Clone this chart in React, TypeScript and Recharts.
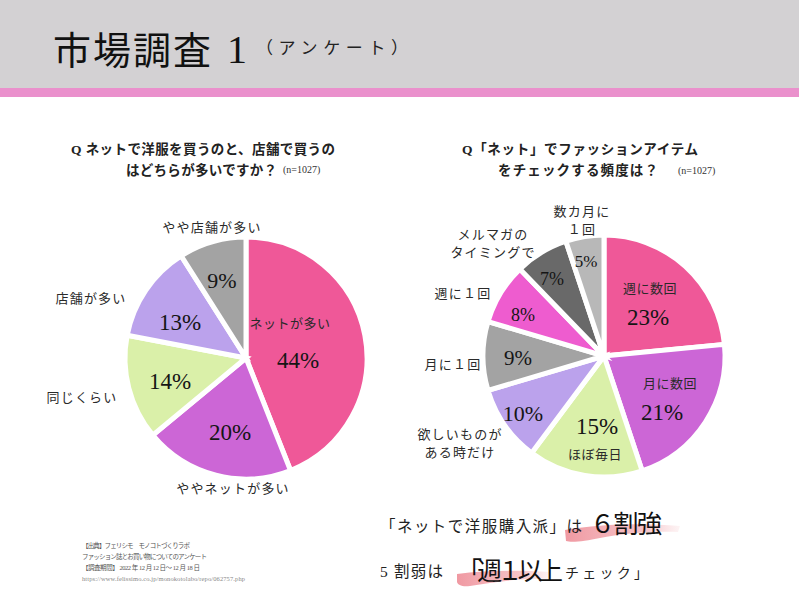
import React from 'react';
import { PieChart, Pie, Cell } from 'recharts';

// ---- data ----
const leftNames = ['ネットが多い', 'ややネットが多い', '同じくらい', '店舗が多い', 'やや店舗が多い'];
const leftValues = [44, 20, 14, 13, 9];
const rightNames = ['週に数回', '月に数回', 'ほぼ毎日', '欲しいものが\nある時だけ', '月に１回', '週に１回', 'メルマガの\nタイミングで', '数カ月に\n１回'];
const rightValues = [23, 21, 15, 10, 9, 8, 7, 5];

// ---- styles / layout ----
const leftColors = ['#EF5898', '#CC66D6', '#DAF0A9', '#BBA2EC', '#A3A3A3'];
const rightColors = ['#EF5898', '#CC66D6', '#DAF0A9', '#BBA2EC', '#A3A3A3', '#EE5CCF', '#696969', '#B8B8B8'];

type Pos = { name: [number, number]; pct: [number, number]; size: number; inside?: boolean };
const leftPos: Pos[] = [
  { name: [44, -36], pct: [52, 2], size: 23, inside: true },
  { name: [-13, 129], pct: [-16, 74], size: 23 },
  { name: [-164, 38], pct: [-76, 23], size: 23 },
  { name: [-155, -61], pct: [-66, -36], size: 23 },
  { name: [-34, -132], pct: [-24, -78], size: 22 },
];
const rightPos: Pos[] = [
  { name: [46, -69], pct: [44, -39], size: 23, inside: true },
  { name: [66, 26], pct: [58, 56], size: 23, inside: true },
  { name: [-9, 97], pct: [-7, 70], size: 23, inside: true },
  { name: [-144, 86], pct: [-81, 57], size: 22 },
  { name: [-151, 7], pct: [-86, 2], size: 21 },
  { name: [-141, -64], pct: [-81, -41], size: 18 },
  { name: [-111, -114], pct: [-52, -77], size: 18 },
  { name: [-22, -137], pct: [-18, -95], size: 17 },
];

const SERIF = "'Liberation Serif', 'Noto Sans CJK JP', serif";
const JP = "'Noto Sans CJK JP', sans-serif";
const NOMARGIN = { top: 0, right: 0, bottom: 0, left: 0 };

const toData = (names: string[], values: number[]) => names.map((n, i) => ({ name: n, value: values[i] }));
const leftData = toData(leftNames, leftValues);
const rightData = toData(rightNames, rightValues);

const makeLabel = (pos: Pos[]) => (props: any) => {
  const { cx, cy, outerRadius, index, value, name } = props;
  const p = pos[index];
  const k = outerRadius / 121;
  const lines = String(name).split('\n');
  const nx = cx + p.name[0] * k;
  const ny = cy + p.name[1] * k;
  const lh = 18;
  return (
    <g>
      <text x={cx + p.pct[0] * k} y={cy + p.pct[1] * k} textAnchor="middle" dominantBaseline="central"
        fontFamily={SERIF} fontSize={p.size} fill="#151515">{`${value}%`}</text>
      {lines.map((l, i) => (
        <text key={i} x={nx} y={ny + (i - (lines.length - 1) / 2) * lh} textAnchor="middle" dominantBaseline="central"
          fontFamily={JP} fontSize={13} fill="#2a2a2a" style={{ letterSpacing: p.inside ? 0.5 : 1.2 }}>{l}</text>
      ))}
    </g>
  );
};

export default function App() {
  return (
    <div style={{ position: 'absolute', left: 0, top: 0, width: 799, height: 601, overflow: 'hidden', background: '#fff' }}>
      <div style={{ position: 'absolute', left: 0, top: 0, width: 799, height: 88, background: '#D3D1D3' }} />
      <div style={{ position: 'absolute', left: 0, top: 88, width: 799, height: 9, background: '#EA90CC' }} />

      <div style={{ position: 'absolute', left: 0, top: 180 }}>
        <PieChart width={400} height={340} margin={NOMARGIN}>
          <Pie data={leftData} dataKey="value" nameKey="name" cx={246} cy={178} outerRadius={121}
            startAngle={90} endAngle={-270} stroke="#fff" strokeWidth={5} isAnimationActive={false}
            label={makeLabel(leftPos)} labelLine={false}>
            {leftData.map((_, i) => <Cell key={i} fill={leftColors[i]} />)}
          </Pie>
        </PieChart>
      </div>
      <div style={{ position: 'absolute', left: 400, top: 180 }}>
        <PieChart width={399} height={340} margin={NOMARGIN}>
          <Pie data={rightData} dataKey="value" nameKey="name" cx={204} cy={176} outerRadius={121}
            startAngle={90} endAngle={-270} stroke="#fff" strokeWidth={5} isAnimationActive={false}
            label={makeLabel(rightPos)} labelLine={false}>
            {rightData.map((_, i) => <Cell key={i} fill={rightColors[i]} />)}
          </Pie>
        </PieChart>
      </div>

      <svg width={799} height={601} style={{ position: 'absolute', left: 0, top: 0, pointerEvents: 'none' }}>
        <defs>
          <linearGradient id="brush" x1="0" x2="1" y1="0" y2="0">
            <stop offset="0" stopColor="#EE8E98" stopOpacity={0.9} />
            <stop offset="0.7" stopColor="#F2A9B0" stopOpacity={0.7} />
            <stop offset="1" stopColor="#F6C8CC" stopOpacity={0.2} />
          </linearGradient>
        </defs>
        {/* title */}
        <text x={53} y={47} dominantBaseline="central" fontFamily={JP} fontSize={38} fill="#111" textLength={158} lengthAdjust="spacing">市場調査</text>
        <text x={227} y={49} dominantBaseline="central" fontFamily={SERIF} fontSize={40} fill="#111">1</text>
        <text x={256} y={46} dominantBaseline="central" fontFamily={JP} fontSize={17} fill="#222" textLength={152} lengthAdjust="spacing">（アンケート）</text>

        {/* question titles */}
        <text x={71} y={149} dominantBaseline="central" fontFamily={SERIF} fontSize={13.5} fontWeight={700} fill="#222" textLength={264} lengthAdjust="spacing">Q ネットで洋服を買うのと、店舗で買うの</text>
        <text x={126} y={170} dominantBaseline="central" fontFamily={SERIF} fontSize={13.5} fontWeight={700} fill="#222" textLength={151} lengthAdjust="spacing">はどちらが多いですか？</text>
        <text x={283} y={169} dominantBaseline="central" fontFamily={SERIF} fontSize={10} fill="#333">(n=1027)</text>

        <text x={462} y={149} dominantBaseline="central" fontFamily={SERIF} fontSize={13.5} fontWeight={700} fill="#222" textLength={236} lengthAdjust="spacing">Q「ネット」でファッションアイテム</text>
        <text x={498} y={170} dominantBaseline="central" fontFamily={SERIF} fontSize={13.5} fontWeight={700} fill="#222" textLength={160} lengthAdjust="spacing">をチェックする頻度は？</text>
        <text x={678} y={170} dominantBaseline="central" fontFamily={SERIF} fontSize={10} fill="#333">(n=1027)</text>

        {/* brush highlights */}
        <path d="M565 530 C600 524 640 523 680 526 L678 532 C650 531 620 534 600 538 C585 541 572 543 566 541 Z" fill="url(#brush)" />
        <path d="M457 574 C485 570 520 570 550 572 L548 579 C520 578 495 582 470 586 C462 587 458 585 457 582 Z" fill="url(#brush)" />

        {/* bottom statements */}
        <text x={380} y={525} dominantBaseline="central" fontFamily={JP} fontSize={15.5} fill="#222" textLength={202} lengthAdjust="spacing">「ネットで洋服購入派」は</text>
        <text x={590} y={522} dominantBaseline="central" fontFamily={JP} fontSize={25} fill="#111" textLength={72} lengthAdjust="spacing">６割強</text>
        <text x={380} y={571} dominantBaseline="central" fontFamily={SERIF} fontSize={15.5} fill="#222" textLength={63} lengthAdjust="spacing">5 割弱は</text>
        <text x={457} y={569} dominantBaseline="central" fontFamily={JP} fontSize={25} fill="#111" textLength={106} lengthAdjust="spacing">「週１以上</text>
        <text x={565} y={572} dominantBaseline="central" fontFamily={JP} fontSize={14} fill="#222" textLength={83} lengthAdjust="spacing">チェック」</text>

        {/* source */}
        <text x={82} y={545} dominantBaseline="central" fontFamily={SERIF} fontSize={6.5} fill="#555" textLength={108} lengthAdjust="spacing">【出典】フェリシモ　モノコトづくりラボ</text>
        <text x={82} y={556} dominantBaseline="central" fontFamily={SERIF} fontSize={6.5} fill="#555" textLength={125} lengthAdjust="spacing">ファッション誌とお買い物についてのアンケート</text>
        <text x={82} y={567} dominantBaseline="central" fontFamily={SERIF} fontSize={6.5} fill="#555" textLength={118} lengthAdjust="spacing">【調査期間】 2022 年 12 月 12 日～ 12 月 18 日</text>
        <text x={82} y={578} dominantBaseline="central" fontFamily={SERIF} fontSize={6.5} fill="#888" textLength={163} lengthAdjust="spacing">https://www.felissimo.co.jp/monokotolabo/repo/062757.php</text>
      </svg>
    </div>
  );
}
